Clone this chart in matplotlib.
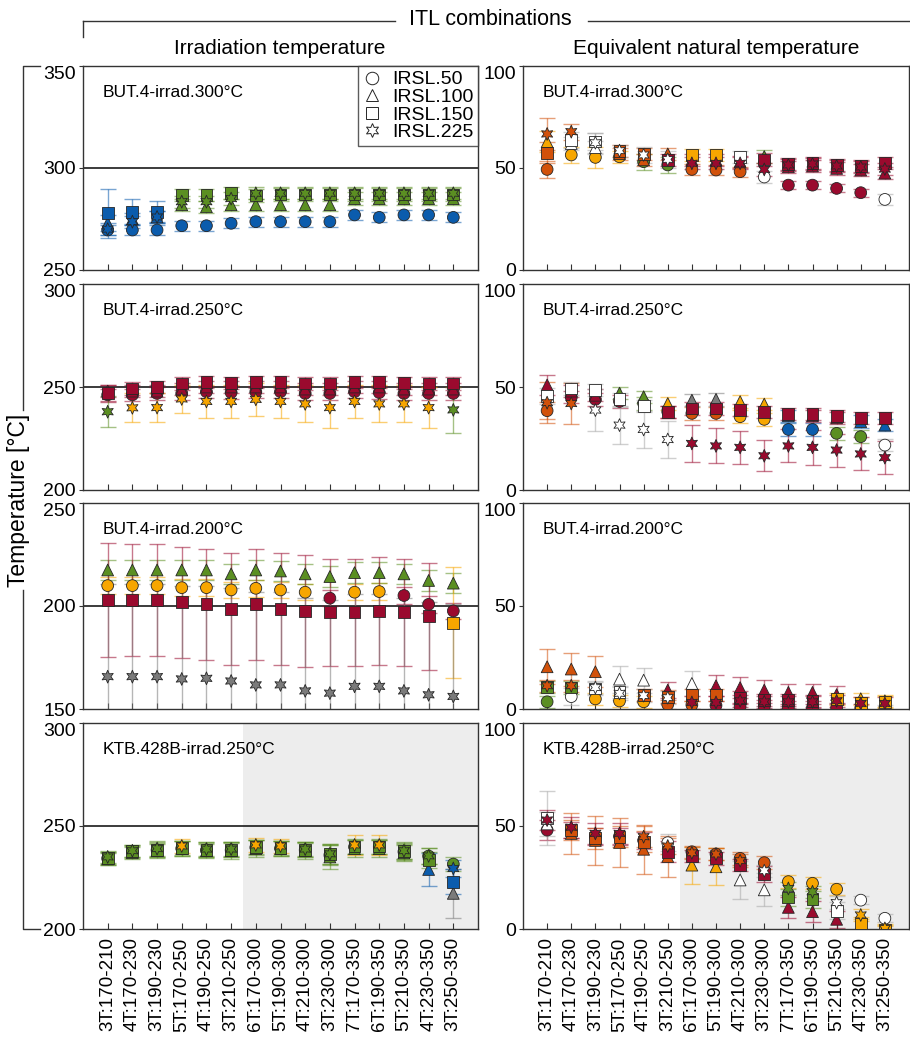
import matplotlib
matplotlib.use('Agg')
import matplotlib.pyplot as plt
import numpy as np
from matplotlib.lines import Line2D

# ITL combinations along the x axis
combos = ['3T:170-210', '4T:170-230', '3T:190-230', '5T:170-250', '4T:190-250',
          '3T:210-250', '6T:170-300', '5T:190-300', '4T:210-300', '3T:230-300',
          '7T:170-350', '6T:190-350', '5T:210-350', '4T:230-350', '3T:250-350']
signals = ['IRSL.50', 'IRSL.100', 'IRSL.150', 'IRSL.225']

# colour codes: b blue, g green, y amber, o dark orange, r crimson, k grey, w white
# every panel: [IRSL.50, IRSL.100, IRSL.150, IRSL.225]

# --- BUT.4 irradiated at 300 C ---
irr300_y = [[269.6, 269.6, 269.6, 271.7, 271.7, 272.9, 273.7, 273.7, 273.7, 273.7, 277.0, 275.8, 277.0, 277.0, 275.8],
            [273, 275, 276, 282, 281, 282, 282, 282, 282, 282, 285, 285, 285, 285, 285],
            [277.8, 278.6, 278.6, 286.8, 286.8, 287.6, 286.5, 287.0, 287.0, 287.0, 287.0, 287.0, 287.0, 287.0, 287.0],
            [270, 273.7, 276, 283.5, 283.5, 285, 287.6, 287.6, 287.6, 287.6, 287.6, 287.6, 287.6, 287.6, 287.6]]
irr300_err = [[2.5] * 15,
              [4, 3, 3, 3, 3, 3, 3, 3, 3, 3, 3, 3, 3, 3, 3],
              [12, 6, 5, 3, 3, 3, 3, 3, 3, 3, 3, 3, 3, 3, 3],
              [3] * 15]
irr300_col = ['bbbbbbbbbbbbbbb', 'bbbgggggggggggg', 'bbbgggggggggggg', 'bbbgggggggggggg']

eq300_y = [[49.3, 56.4, 55.2, 55.5, 53.1, 51.5, 49.3, 49.0, 48.2, 45.6, 41.6, 41.6, 40.0, 37.9, 34.6],
           [62.9, 62, 60, 57, 54, 56.9, 54, 54, 53, 55.6, 50.6, 51, 49.8, 49, 47.5],
           [57.5, 63.7, 63, 58.5, 56.9, 53.8, 56.4, 56.4, 55.5, 54.2, 51.9, 52.6, 51.5, 51.0, 52.3],
           [66.7, 67.8, 62.4, 58.5, 56.4, 54.2, 52.3, 52.3, 52.3, 49.3, 51.5, 52.0, 51.0, 50.5, 49.5]]
eq300_err = [[4, 4, 5, 3, 4, 4, 2.5, 2.5, 2.5, 3, 2, 2, 2, 2, 2.5],
             [5, 3, 3, 3, 3, 3, 3, 3, 3, 3, 3, 3, 3, 3, 3],
             [5, 4, 4, 3, 3, 3, 3, 3, 3, 3, 3, 3, 3, 3, 3],
             [8, 4, 5, 3, 4, 4, 3, 3, 3, 3, 3, 3, 3, 3, 3]]
eq300_col = ['oyyyggooowrrrrw', 'ywwooorrrgrrrrr', 'owwooryywrrrrrr', 'oowwwwrrrrrrrrr']

# --- BUT.4 irradiated at 250 C ---
irr250_y = [[246.2, 246.2, 246.9, 246.9, 247.7, 247.3, 247.7, 247.7, 246.9, 246.9, 247.7, 247.3, 246.9, 246.9, 246.9],
            [248, 248, 248, 249, 250, 250, 250, 250, 249, 249, 250, 250, 249, 249, 249],
            [246.9, 249.3, 250, 251.7, 252.5, 252, 252.5, 252.5, 251.7, 251.7, 252.5, 252.5, 252, 251.7, 251.7],
            [238, 239.9, 240, 244.2, 243, 243, 244, 243, 241.8, 240, 243, 241.8, 241.8, 240, 238.9]]
irr250_err = [[3] * 15,
              [3] * 15,
              [4, 3, 3, 3, 3, 3, 3, 3, 3, 3, 3, 3, 3, 3, 3],
              [7.5, 7, 7, 7, 8, 8, 8, 8, 9, 10, 8, 9, 9, 10, 11]]
irr250_col = ['rrrrrrrrrrrrrrr', 'rrrrrrrrrrrrrrr', 'rrrrrrrrrrrrrrr', 'gyyyyyyyyyyyyyg']

eq250_y = [[38.5, 45, 44, 43, 42, 38, 37.2, 37.2, 35.6, 34.3, 29.4, 29.4, 27.5, 25.9, 21.8],
           [51, 48, 46, 47, 45.3, 42, 43.6, 44, 42.9, 41.7, 36, 36, 35, 33.2, 31.5],
           [45.6, 49.3, 48.5, 44, 40.8, 38, 39.6, 39.6, 38.8, 38, 36.9, 36.9, 35.9, 34.8, 34.8],
           [42.4, 42, 38.8, 31.5, 29.4, 24.5, 22.6, 21.4, 20.7, 16.6, 21.4, 20.7, 19.4, 17.5, 15.7]]
eq250_err = [[4, 3, 3, 3, 3, 3, 3, 3, 3, 3, 3, 3, 3, 3, 3],
             [5, 3, 3, 3, 3, 3, 3, 3, 3, 3, 3, 3, 3, 3, 3],
             [4, 3, 3, 3, 3, 3, 3, 3, 3, 3, 3, 3, 3, 3, 3],
             [10, 10, 10, 9, 9, 9, 9, 8.5, 8, 7.5, 8, 8.5, 8, 8, 8]]
eq250_col = ['orrrgrooyybbggw', 'rrrggykkyybrrbb', 'wwwwwrrrrrrrrrr', 'oowwwwrrrrrrrrr']

# --- BUT.4 irradiated at 200 C ---
irr200_y = [[209.9, 209.9, 209.9, 208.9, 208.9, 207.8, 208.6, 207.8, 206.7, 203.8, 206.7, 207.0, 205.1, 200.8, 197.6],
            [217.5, 217.5, 217.5, 217.5, 217.5, 215.6, 217.5, 217.0, 215.6, 214.3, 216.2, 216.2, 215.6, 212.4, 211.1],
            [202.9, 202.9, 202.9, 201.8, 200.8, 198.6, 200.8, 198.6, 197.6, 197.0, 197.0, 197.6, 197.0, 195.0, 191.9],
            [165.7, 165.7, 165.7, 164.6, 164.9, 163.6, 161.7, 161.7, 158.8, 157.7, 161.0, 161.0, 158.8, 156.9, 156.1]]
irr200_err = [[4] * 15,
              [5] * 15,
              [27.5, 27, 27, 27, 27, 27, 27, 27, 27, 26, 26, 26, 26, 26, 27],
              [45] * 15]
irr200_col = ['yyyyyyyyyryyrrr', 'ggggggggggggggg', 'rrrrrrrrrrrrrry', 'kkkkkkkkkkkkkkk']

eq200_y = [[3.5, 6.0, 4.9, 3.9, 3.5, 2.2, 2.0, 1.7, 1.1, 1.1, 0.6, 0.6, 0.6, 0.4, 0.0],
           [20.5, 19.4, 18.1, 14.5, 14.0, 9.2, 12.4, 11.3, 10.4, 9.2, 8.1, 8.1, 7.0, 5.0, 4.0],
           [10.8, 10.4, 10.0, 8.4, 6.8, 6.0, 6.8, 6.8, 5.5, 4.5, 4.5, 4.0, 5.0, 3.0, 3.5],
           [11.3, 11.3, 10.4, 7.6, 6.5, 5.5, 3.2, 3.2, 4.0, 3.5, 3.5, 3.5, 4.0, 2.7, 2.7]]
eq200_err = [[3, 4, 3, 3, 3, 2, 2, 2, 2, 2, 2, 2, 2, 2, 2],
             [8.6, 8, 7.5, 6.5, 6, 4, 6, 5, 5, 5, 4, 4, 4, 3, 3],
             [3] * 15,
             [3] * 15]
eq200_col = ['gwyyyoorrrrrrrw', 'ooowwrwrrrrrryy', 'ggwwoooorrrryyy', 'oowwwwrrrrrrrrr']

# --- KTB.428B irradiated at 250 C ---
ktb_irr_y = [[234.3, 237.5, 238.3, 239.1, 238.3, 238.3, 239.6, 239.1, 238.3, 235.9, 239.9, 239.9, 237.5, 235.4, 231.5],
             [234, 237, 238, 239, 238, 238, 239, 239, 238, 235, 239, 239, 237, 228.9, 217.3],
             [234.5, 237.8, 238.5, 239.3, 238.5, 238.5, 239.8, 239.3, 238.5, 236.5, 240, 240, 237.8, 233.5, 223],
             [235, 238, 239, 240.3, 238.8, 238.8, 240.8, 240.3, 238.8, 236.5, 240.8, 240.8, 238, 235.5, 229.4]]
ktb_irr_err = [[3, 3, 3.5, 3.5, 3.5, 3.5, 3.5, 3.5, 3.5, 5, 3.5, 3.5, 4, 4, 3.5],
               [3, 3, 3.5, 3.5, 3.5, 4, 4, 3.5, 4, 6, 4, 4, 4, 8, 12],
               [3, 3, 3.5, 3.5, 3.5, 3.5, 3.5, 3.5, 3.5, 5, 3.5, 3.5, 4, 4, 6],
               [3, 3, 3.5, 3.5, 3.5, 3.5, 3.5, 3.5, 3.5, 5, 5, 5, 4, 4, 4]]
ktb_irr_col = ['ggggggggggggggg', 'gggggggggggggbk', 'ggggggggggggggb', 'gggyggyyggyyggb']

ktb_eq_y = [[48, 48, 45, 45, 43, 41.9, 37.5, 36.4, 34.3, 32.2, 23, 22.2, 19.3, 14, 5.2],
            [51, 46.4, 43, 42, 38.7, 35.2, 31, 30.2, 23.8, 19, 10.5, 8.4, 4.7, 2, 0],
            [53.8, 48, 44, 44.8, 42.4, 37.5, 35.4, 34.3, 31, 26.7, 15.3, 14.4, 8.9, 2.7, -0.5],
            [52.9, 49.4, 46.4, 46.4, 44.8, 40.3, 37, 36.4, 33.2, 28.3, 19.7, 18.1, 12.8, 6.8, 0.3]]
ktb_eq_err = [[5, 4, 4, 4, 4, 4, 3, 3, 3, 3, 3, 3, 3, 2, 2],
              [6, 10, 12, 12, 12, 10, 9, 9, 9, 8, 5, 5, 4, 3, 2],
              [13, 5, 5, 5, 5, 5, 3, 3, 3, 4, 4, 4, 4, 3, 2],
              [5, 5, 5, 5, 5, 4, 3, 3, 3, 3, 3, 3, 3, 3, 2]]
ktb_eq_col = ['rrrrrwooooyyyww', 'woooooyywwrrryy', 'woooorrrrrggwyy', 'rrrrooooowggwyy']

panel_names = ['BUT.4-irrad.300°C', 'BUT.4-irrad.250°C', 'BUT.4-irrad.200°C', 'KTB.428B-irrad.250°C']
irr_ylims = [(250, 350), (200, 300), (150, 250), (200, 300)]
irr_lines = [300, 250, 200, 250]

palette = {'b': '#0b5cad', 'g': '#5b8f22', 'y': '#f7a600', 'o': '#d2510a',
           'r': '#9a0a2e', 'k': '#7b7b7b', 'w': '#ffffff'}
bar_palette = dict(palette, w='#a8a8a8')
markers = ['o', '^', 's', (6, 1, 0)]

plt.rcParams['font.family'] = ['Liberation Sans', 'DejaVu Sans']

W, H = 910, 1038
fig = plt.figure(figsize=(W / 100, H / 100), dpi=100)


def fx(p):
    return p / W


def fy(p):
    return 1 - p / H


rows = [(66, 270), (284, 490), (503, 709), (723, 929)]
cols = [(83, 478), (523, 909)]
x = np.arange(1, len(combos) + 1)


def draw_panel(ax, ys, errs, colcodes):
    for j in range(4):
        y = np.array(ys[j], dtype=float)
        e = np.array(errs[j], dtype=float)
        codes = np.array(list(colcodes[j]))
        for c in np.unique(codes):
            m = codes == c
            ax.errorbar(x[m], y[m], yerr=e[m], fmt='none', ecolor=bar_palette[c],
                        alpha=0.55, elinewidth=1.0, capsize=5.5, capthick=1.0, zorder=2)
    for j in range(4):
        fc = [palette[c] for c in colcodes[j]]
        s = 85 if j == 3 else 72
        ax.scatter(x, ys[j], marker=markers[j], s=s, c=fc, edgecolors='#262626',
                   linewidths=0.6, zorder=3 + j)


left_data = [(irr300_y, irr300_err, irr300_col), (irr250_y, irr250_err, irr250_col),
             (irr200_y, irr200_err, irr200_col), (ktb_irr_y, ktb_irr_err, ktb_irr_col)]
right_data = [(eq300_y, eq300_err, eq300_col), (eq250_y, eq250_err, eq250_col),
              (eq200_y, eq200_err, eq200_col), (ktb_eq_y, ktb_eq_err, ktb_eq_col)]

for r, (top, bot) in enumerate(rows):
    for c, (x0, x1) in enumerate(cols):
        ax = fig.add_axes([fx(x0), fy(bot), (x1 - x0) / W, (bot - top) / H])
        ys, errs, codes = (left_data if c == 0 else right_data)[r]
        draw_panel(ax, ys, errs, codes)
        if c == 0:
            lo, hi = irr_ylims[r]
            ax.axhline(irr_lines[r], color='#1a1a1a', lw=1.2, zorder=1)
        else:
            lo, hi = 0, 100
        ax.set_ylim(lo, hi)
        ax.set_yticks([lo, (lo + hi) / 2, hi])
        ax.set_yticklabels([f'{int(v)}' for v in (lo, (lo + hi) / 2, hi)])
        # the top label sits just under the frame top, as in the original
        ax.get_yticklabels()[-1].set_va('top')
        ax.set_xlim(0, 16)
        ax.set_xticks(x)
        if r == 3:
            ax.set_xticklabels(combos, rotation=90, fontsize=13.5)
            ax.axvspan(6.5, 16, color='#ededed', zorder=0, lw=0)
        else:
            ax.set_xticklabels([])
        ax.tick_params(axis='x', direction='in', length=4, width=0.8, color='#333333', pad=6)
        ax.tick_params(axis='y', direction='out', length=3, width=0.8, color='#333333',
                       labelsize=14, pad=2)
        for sp in ax.spines.values():
            sp.set_color('#333333')
            sp.set_linewidth(1.0)
        ax.text(0.05, 0.87, panel_names[r], transform=ax.transAxes, fontsize=12.5,
                ha='left', va='center')
        if r == 0 and c == 0:
            handles = [Line2D([], [], ls='none', marker=markers[k], markersize=9 if k < 3 else 10,
                              markerfacecolor='white', markeredgecolor='#262626',
                              markeredgewidth=0.7) for k in range(4)]
            leg = ax.legend(handles, signals, loc='upper right', fontsize=14,
                            frameon=True, fancybox=False, edgecolor='#333333',
                            borderaxespad=0, borderpad=0.25, labelspacing=0.0,
                            handlelength=1.0, handletextpad=0.5)
            leg.get_frame().set_linewidth(1.0)
            leg.set_zorder(10)

# column titles and the ITL bracket
fig.text(fx(280), fy(48), 'Irradiation temperature', ha='center', va='center', fontsize=15)
fig.text(fx(716), fy(48), 'Equivalent natural temperature', ha='center', va='center', fontsize=15)
fig.text(fx(490), fy(19), 'ITL combinations', ha='center', va='center', fontsize=15.5)

lc = '#333333'
fig.add_artist(Line2D([fx(83), fx(395)], [fy(20.5), fy(20.5)], color=lc, lw=1.0))
fig.add_artist(Line2D([fx(588), fx(910)], [fy(20.5), fy(20.5)], color=lc, lw=1.0))
fig.add_artist(Line2D([fx(83), fx(83)], [fy(20.5), fy(37)], color=lc, lw=1.0))

# y label with its bracket
fig.text(fx(19), fy(500), 'Temperature [°C]', rotation=90, ha='center', va='center', fontsize=16.5)
fig.add_artist(Line2D([fx(40), fx(22.5), fx(22.5)], [fy(66), fy(66), fy(410)], color=lc, lw=1.0))
fig.add_artist(Line2D([fx(22.5), fx(22.5), fx(40)], [fy(590), fy(929), fy(929)], color=lc, lw=1.0))

fig.savefig('out.png', dpi=100)
